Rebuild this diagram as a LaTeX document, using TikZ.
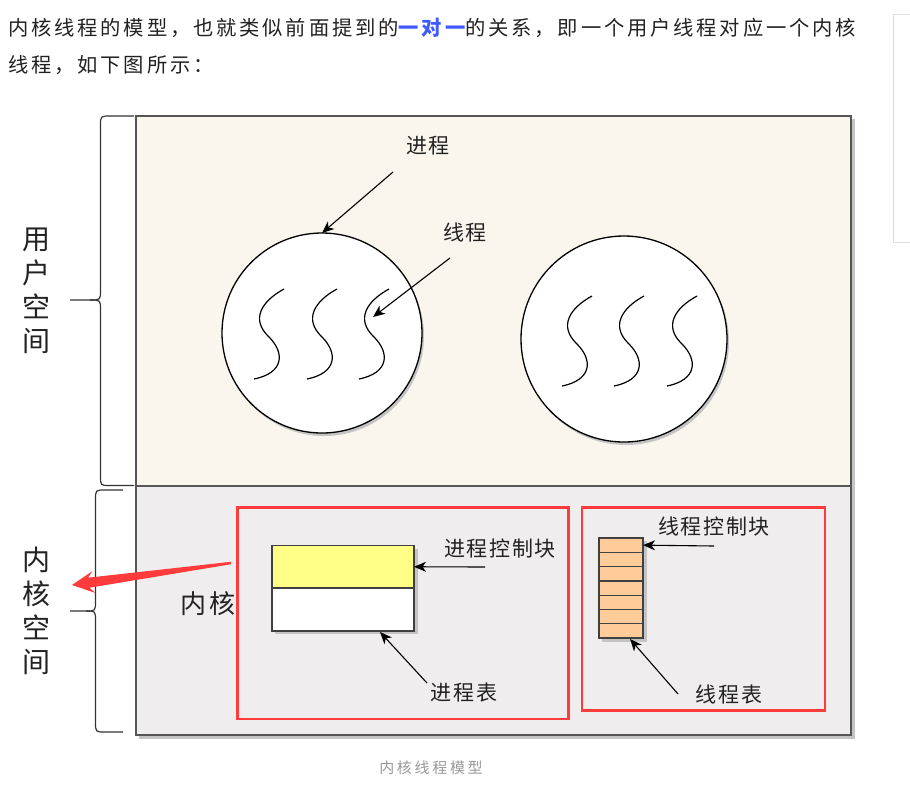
\documentclass[tikz,border=0pt]{standalone}
\usepackage{fontspec}
\setmainfont{Noto Sans CJK SC}
\newfontfamily\cjkA[LetterSpace=14]{Noto Sans CJK SC}
\newfontfamily\cjkB[LetterSpace=8]{Noto Sans CJK SC}
\newfontfamily\cjkC[LetterSpace=18]{Noto Sans CJK SC}
\usetikzlibrary{arrows.meta}
\definecolor{userbg}{HTML}{FAF6EE}
\definecolor{kernbg}{HTML}{EFEDEE}
\definecolor{redbox}{HTML}{FF3B3B}
\definecolor{pcbc}{HTML}{FFFF88}
\definecolor{tcbc}{HTML}{FFCC99}
\definecolor{edgec}{HTML}{555555}
\definecolor{shadowc}{HTML}{C4C4C4}
\definecolor{blueb}{HTML}{3F5BFF}
\definecolor{capc}{HTML}{999999}
\definecolor{textc}{HTML}{222222}
\definecolor{panelc}{HTML}{DDDDDD}
\begin{document}
\begin{tikzpicture}[x=1pt,y=-1pt,
  para/.style={anchor=west,inner sep=0,text=textc,font=\cjkA\fontsize{20.3}{24}\selectfont},
  lbl/.style={inner sep=0,text=textc,font=\cjkB\fontsize{21}{24}\selectfont},
  vlbl/.style={inner sep=0,text=textc,align=center,font=\fontsize{28}{34}\selectfont},
  area/.style={anchor=north west,inner sep=0,outer sep=0,draw=edgec,line width=1.2pt},
  proc/.style={circle,draw=black,fill=white,line width=1.3pt,inner sep=0,outer sep=0},
  redrect/.style={anchor=north west,inner sep=0,outer sep=0,draw=redbox,line width=2.6pt},
  cellfill/.style={inner sep=0,outer sep=0,draw=none},
  celledge/.style={inner sep=0,outer sep=0,draw=black!75,line width=1.3pt,fill=none},
  arr/.style={-{Stealth[length=12pt,width=10pt,inset=3.5pt]},line width=1.1pt,black},
  brace/.style={draw=black!80,line width=1.2pt},
  squig/.pic={\draw[line width=1.2pt,black] (0,0) .. controls (-22,12) and (-34,30) .. (-15,48) .. controls (1,64) and (0,84) .. (-30,90);}
]
\useasboundingbox (0,0) rectangle (910,785);
\fill[white] (0,0) rectangle (910,785);

% faint side panel
\draw[panelc,line width=0.8pt] (915,14) -- (893.5,14) -- (893.5,242) -- (915,242);

% paragraph
\node[para] (para1) at (8,28) {内核线程的模型，也就类似前面提到的{\color{blueb}\bfseries 一对一}的关系，即一个用户线程对应一个内核};
\node[para] (para2) at (8,65) {线程，如下图所示：};

% areas
\fill[shadowc] (139,119) rectangle (854.5,739);
\node[area,fill=userbg,minimum width=715pt,minimum height=370pt] (user) at (136,116) {};
\node[area,fill=kernbg,minimum width=715pt,minimum height=249pt] (kern) at (136,486) {};

% braces
\draw[brace] (134,116) -- (110,116) .. controls (100.5,116) .. (100.5,126) -- (100.5,290) .. controls (100.5,300) .. (90,300) -- (70,300);
\draw[brace] (90,300) .. controls (100.5,300) .. (100.5,310) -- (100.5,476) .. controls (100.5,485.5) .. (110,485.5) -- (134,485.5);
\draw[brace] (123,490) -- (105,490) .. controls (95.5,490) .. (95.5,500) -- (95.5,601) .. controls (95.5,611) .. (86,611) -- (70,611);
\draw[brace] (86,611) .. controls (95.5,611) .. (95.5,621) -- (95.5,722) .. controls (95.5,732) .. (105,732) -- (123,732);

\node[vlbl] (uspace) at (37,291) {用\\户\\空\\间};
\node[vlbl] (kspace) at (37,611) {内\\核\\空\\间};

% processes
\fill[shadowc] (324,336) circle (100);
\node[proc,minimum size=200pt] (proc1) at (322,333) {};
\fill[shadowc] (626,342) circle (103);
\node[proc,minimum size=206pt] (proc2) at (624,339) {};
\pic at (284,289) {squig};
\pic at (337,289) {squig};
\pic at (389,289) {squig};
\pic at (592,296) {squig};
\pic at (644,296) {squig};
\pic at (697,296) {squig};

\node[lbl] (lproc) at (428,146) {进程};
\coordinate (lprocs) at (393,172);
\draw[arr] (lprocs) -- (proc1.north);
\node[lbl] (lthr) at (465,232) {线程};
\coordinate (lthrs) at (450,258);
\coordinate (thrtip) at (373,317);
\draw[arr] (lthrs) -- (thrtip);

% kernel
\node[inner sep=0,text=textc,font=\cjkB\fontsize{26}{30}\selectfont] (kname) at (208,604) {内核};
\node[redrect,minimum width=331pt,minimum height=211.5pt] (rb1) at (237.5,507.5) {};
\node[redrect,minimum width=243pt,minimum height=203pt] (rb2) at (582,507.5) {};

% process table
\fill[shadowc] (275,548.5) rectangle (417.5,634);
\node[cellfill,fill=pcbc,minimum width=142pt,minimum height=42.5pt,anchor=north west] (pcb) at (272,545.5) {};
\node[cellfill,fill=white,minimum width=142pt,minimum height=43pt,anchor=north west] (ptab) at (272,588) {};
\node[celledge,minimum width=142pt,minimum height=42.5pt,anchor=north west] at (pcb.north west) {};
\node[celledge,minimum width=142pt,minimum height=43pt,anchor=north west] at (ptab.north west) {};
\node[lbl] (lpcb) at (500,549) {进程控制块};
\coordinate (pcbs) at (485,567);
\draw[arr] (pcbs) -- (pcb.east);
\node[lbl] (lptab) at (464,692) {进程表};
\coordinate (ptabs) at (427,683);
\coordinate (ptabtip) at (380,632);
\draw[arr] (ptabs) -- (ptabtip);

% thread table
\fill[shadowc] (602,541) rectangle (646.5,641.5);
\foreach \i in {1,...,7}{
  \node[cellfill,fill=tcbc,minimum width=44pt,minimum height=14.2857pt] (t\i) at (621,{538+14.2857*(\i-0.5)}) {};
}
\foreach \i in {1,...,7}{
  \node[celledge,minimum width=44pt,minimum height=14.2857pt] at (t\i.center) {};
}
\node[lbl] (ltcb) at (714,527) {线程控制块};
\coordinate (tcbs) at (714,546);
\draw[arr] (tcbs) -- (t1.east);
\node[lbl] (lttab) at (729,694) {线程表};
\coordinate (ttabs) at (678,694);
\coordinate (ttabtip) at (630,639);
\draw[arr] (ttabs) -- (ttabtip);

% red pointer arrow
\fill[redbox] (72,585) -- (95.3,592.9) -- (89.5,587.7) -- (231.1,564.2) -- (230.9,561.8) -- (88.1,577.7) -- (92.3,571.1) -- cycle;

% caption
\node[inner sep=0,text=capc,font=\cjkC\fontsize{15}{18}\selectfont] (cap) at (431,768) {内核线程模型};
\end{tikzpicture}
\end{document}
